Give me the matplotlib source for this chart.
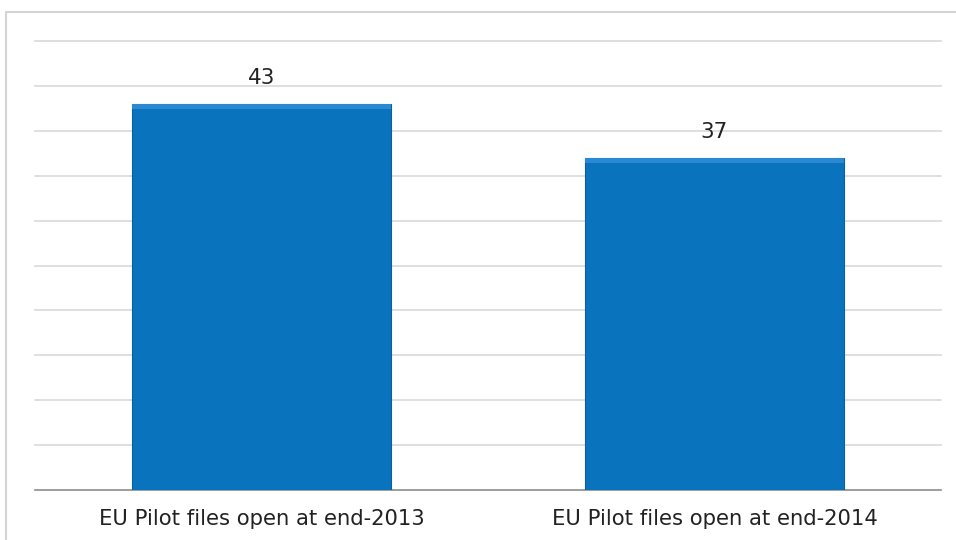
import matplotlib.pyplot as plt
from matplotlib.patches import Rectangle

# dane z wykresu
kategorie = ['EU Pilot files open at end-2013', 'EU Pilot files open at end-2014']
wartosci = [43, 37]
etykiety = ['43', '37']

fig = plt.figure(figsize=(9.56, 5.4), dpi=100)
ax = fig.add_axes([35 / 956, 50 / 540, 906 / 956, 449 / 540])

# ramka wokol wykresu (ucieta z prawej i z dolu)
fig.patches.append(Rectangle((6 / 956, -0.05), 1.1, (528 / 540) + 0.05,
                             transform=fig.transFigure, fill=False,
                             edgecolor='#d4d4d4', lw=1.5))

x = list(range(len(wartosci)))
szer = 0.57
ax.bar(x, wartosci, width=szer, color='#0a73bd', edgecolor='#0b5f9c', lw=0.8, zorder=3)
# jasniejszy pasek na gorze (efekt fazy)
faza = 0.6
ax.bar(x, [faza] * len(wartosci), bottom=[w - faza for w in wartosci], width=szer,
       color='#2b88d2', lw=0, zorder=4)

for xi, w, t in zip(x, wartosci, etykiety):
    ax.text(xi, w + 1.8, t, ha='center', va='bottom', fontsize=15.5, color='#222222')

ax.set_xlim(-0.5, 1.5)
ax.set_ylim(0, 50)
ax.set_yticks(range(5, 51, 5))
ax.yaxis.grid(True, color='#d9d9d9', lw=1.2, zorder=0)
for g in ax.get_ygridlines():
    g.set_clip_on(False)
ax.tick_params(left=False, labelleft=False, bottom=False)
ax.set_xticks(x)
ax.set_xticklabels(kategorie, fontsize=15.2, color='#222222')
ax.tick_params(axis='x', pad=10)
for s in ['top', 'right', 'left']:
    ax.spines[s].set_visible(False)
ax.spines['bottom'].set_color('#8c8c8c')
ax.spines['bottom'].set_linewidth(1.2)

plt.savefig('out.png', dpi=100)
